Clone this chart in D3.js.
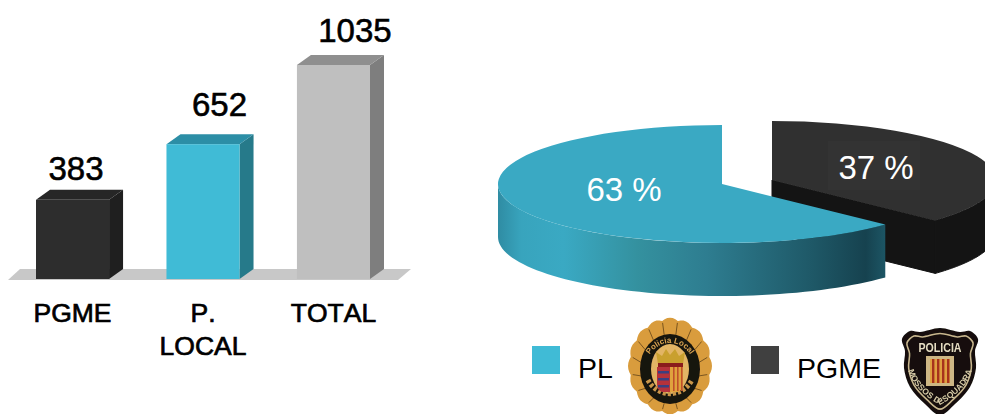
<!DOCTYPE html>
<html>
<head>
<meta charset="utf-8">
<script src="https://cdn.jsdelivr.net/npm/d3@7"></script>
<style>
html,body{margin:0;padding:0;background:#fff;overflow:hidden}
svg{display:block}
text{font-family:"Liberation Sans",Arial,sans-serif;font-kerning:none}
</style>
</head>
<body>
<script>
// bar data
var categories = ["PGME", "P. LOCAL", "TOTAL"];
var barValues = [383, 652, 1035];
var barFront = ["#2d2d2d", "#40bbd6", "#bfbfbf"];
var barTop = ["#262626", "#2c8ea6", "#8f8f8f"];
var barSide = ["#1f1f1f", "#267a8a", "#7e7e7e"];

// pie data
var pieNames = ["PL", "PGME"];
var pieValues = [63, 37];
var pieLabels = ["63 %", "37 %"];

var legendColors = ["#40bbd6", "#404040"];

var width = 985, height = 414;
var svg = d3.select("body").append("svg")
    .attr("width", width).attr("height", height).attr("viewBox", [0, 0, width, height]);
var defs = svg.append("defs");

// BARS
var base = 279, dx = 14, dy = 10;
var x = d3.scaleBand().domain(categories).range([36, 370]).paddingInner(0.44).paddingOuter(0);
var y = d3.scaleLinear().domain([0, 1035]).range([base, 65]);
// value labels sit off the bar centre in the original
var valueShift = [3.5, 16.5, 21.5];
var valueLift = [20, 28, 23];

svg.append("polygon")
    .attr("points", [[8, 280], [398, 280], [411, 269], [20, 269]].join(" "))
    .attr("fill", "#c8c8c8");

var bars = svg.append("g").selectAll("g").data(barValues).enter().append("g");
bars.append("polygon")
    .attr("fill", function(d, i) { return barSide[i]; })
    .attr("points", function(d, i) {
        var r = x(categories[i]) + x.bandwidth();
        return [[r, y(d)], [r + dx, y(d) - dy], [r + dx, base - dy], [r, base]].join(" ");
    });
bars.append("polygon")
    .attr("fill", function(d, i) { return barTop[i]; })
    .attr("points", function(d, i) {
        var l = x(categories[i]), r = l + x.bandwidth();
        return [[l, y(d)], [l + dx, y(d) - dy], [r + dx, y(d) - dy], [r, y(d)]].join(" ");
    });
bars.append("rect")
    .attr("x", function(d, i) { return x(categories[i]); })
    .attr("y", function(d) { return y(d); })
    .attr("width", x.bandwidth())
    .attr("height", function(d) { return base - y(d); })
    .attr("fill", function(d, i) { return barFront[i]; });
bars.append("text")
    .attr("x", function(d, i) { return x(categories[i]) + x.bandwidth() / 2 + valueShift[i]; })
    .attr("y", function(d, i) { return y(d) - valueLift[i]; })
    .attr("text-anchor", "middle")
    .attr("font-size", 33).attr("stroke", "#000").attr("stroke-width", 0.6)
    .text(function(d) { return d; });

// category labels, split on the space like the original
var catLabels = svg.append("g").selectAll("text").data(categories).enter().append("text")
    .attr("x", function(d) { return x(d) + x.bandwidth() / 2; })
    .attr("y", 322)
    .attr("text-anchor", "middle")
    .attr("font-size", 26.5).attr("stroke", "#000").attr("stroke-width", 0.7);
catLabels.selectAll("tspan").data(function(d) { return d.split(" "); }).enter().append("tspan")
    .attr("x", function() { return d3.select(this.parentNode).attr("x"); })
    .attr("dy", function(d, i) { return i ? 33 : 0; })
    .text(function(d) { return d; });

// PIE
var rx = 224, ry = 59, depth = 53;
var tilt = 133.2 * Math.PI / 180; // where the teal slice starts, clockwise from top
var centers = [[722, 184], [772, 180]];
var pie = d3.pie().sort(null).startAngle(tilt).endAngle(tilt + 2 * Math.PI);
var slices = pie(pieValues);
var arc = d3.arc().innerRadius(0).outerRadius(ry);

function rim(c, a0, a1, off) {
    return d3.range(0, 61).map(function(k) {
        var a = a0 + (a1 - a0) * k / 60;
        return [c[0] + rx * Math.sin(a), c[1] - ry * Math.cos(a) + off];
    });
}
function wall(c, a0, a1) {
    return d3.line()(rim(c, a0, a1, 0).concat(rim(c, a1, a0, depth))) + "Z";
}

var grad = defs.append("linearGradient").attr("id", "tealWall")
    .attr("gradientUnits", "userSpaceOnUse")
    .attr("x1", 498).attr("x2", 885).attr("y1", 0).attr("y2", 0);
[[0, "#2f8ca3"], [0.06, "#38a4bd"], [0.17, "#3aa9c3"], [0.36, "#34919f"], [0.54, "#2e7d90"],
 [0.8, "#1f5a69"], [0.95, "#16424f"], [1, "#1c5564"]].forEach(function(s) {
    grad.append("stop").attr("offset", s[0]).attr("stop-color", s[1]);
});

// dark slice goes first, teal sits in front of it
var darkC = centers[1], dark = slices[1];
var darkEnd = dark.endAngle - 2 * Math.PI;
svg.append("path")
    .attr("d", wall(darkC, Math.PI / 2, darkEnd))
    .attr("fill", "#141414").attr("stroke", "#141414").attr("stroke-width", 1);
svg.append("polygon") // cut face
    .attr("points", [[darkC[0], darkC[1]], rim(darkC, darkEnd, darkEnd, 0)[0],
        rim(darkC, darkEnd, darkEnd, depth)[0], [darkC[0], darkC[1] + depth]].join(" "))
    .attr("fill", "#141414").attr("stroke", "#141414").attr("stroke-width", 1);
svg.append("path")
    .attr("transform", "translate(" + darkC + ") scale(" + rx / ry + ",1)")
    .attr("d", d3.arc().innerRadius(0).outerRadius(ry).startAngle(0).endAngle(darkEnd)())
    .attr("fill", "#303030");
svg.append("rect").attr("x", 828).attr("y", 141).attr("width", 92).attr("height", 49).attr("fill", "#333");

var teal = slices[0], tealC = centers[0];
svg.append("path")
    .attr("d", wall(tealC, teal.startAngle, 1.5 * Math.PI))
    .attr("fill", "url(#tealWall)");
svg.append("path")
    .attr("transform", "translate(" + tealC + ") scale(" + rx / ry + ",1)")
    .attr("d", arc(teal))
    .attr("fill", "#3aa9c3");

svg.append("g").selectAll("text").data(pieLabels).enter().append("text")
    .attr("x", function(d, i) { return [624, 876][i]; })
    .attr("y", function(d, i) { return [201, 179][i]; })
    .attr("text-anchor", "middle").attr("font-size", 33).attr("fill", "#fff")
    .text(function(d) { return d; });

// LEGEND
var legend = svg.append("g").selectAll("g").data(pieNames).enter().append("g");
legend.append("rect")
    .attr("x", function(d, i) { return [532, 751][i]; })
    .attr("y", 346).attr("width", 28).attr("height", 28)
    .attr("fill", function(d, i) { return legendColors[i]; });
legend.append("text")
    .attr("x", function(d, i) { return [578, 797][i]; })
    .attr("y", 378).attr("font-size", 28.5)
    .text(function(d) { return d; });

// badges are soft in the original
defs.append("filter").attr("id", "soft").append("feGaussianBlur").attr("stdDeviation", 0.6);

// POLICIA LOCAL BADGE
var b1 = svg.append("g").attr("transform", "translate(670,366)").attr("filter", "url(#soft)");
var scallop = d3.range(0, 96).map(function(k) {
    var a = k / 96 * 2 * Math.PI;
    var wob = 1 + 0.05 * Math.abs(Math.cos(a * 8));
    return [40 * wob * Math.sin(a), -46 * wob * Math.cos(a)];
});
b1.append("path").attr("d", d3.line().curve(d3.curveLinearClosed)(scallop)).attr("fill", "#d99c3c");
d3.range(0, 16).forEach(function(k) {
    var a = (k + 0.5) / 16 * 2 * Math.PI;
    b1.append("line")
        .attr("x1", 30 * Math.sin(a)).attr("y1", 3 - 35 * Math.cos(a))
        .attr("x2", 38 * Math.sin(a)).attr("y2", -44 * Math.cos(a))
        .attr("stroke", "#7a5520").attr("stroke-width", 1);
});
b1.append("ellipse").attr("cy", 3).attr("rx", 30).attr("ry", 35).attr("fill", "#171310");
b1.append("ellipse").attr("cy", 3).attr("rx", 19).attr("ry", 25).attr("fill", "#e2b565");
defs.append("path").attr("id", "b1top").attr("d", "M-26,8 A25,30 0 0 1 26,8");
b1.append("text").attr("font-size", 8).attr("font-weight", "bold").attr("fill", "#d8a550")
    .attr("text-anchor", "middle")
    .append("textPath").attr("href", "#b1top").attr("startOffset", "50%").text("Policia Local");
b1.append("path").attr("d", "M-22,14 A25,26 0 0 0 22,14")
    .attr("fill", "none").attr("stroke", "#c9974a").attr("stroke-width", 5).attr("stroke-dasharray", "3 2");
// crown and shield
b1.append("path").attr("d", "M-12,-2 L-14,-14 L-8,-10 L-4,-17 L0,-11 L5,-17 L9,-10 L15,-14 L13,-2Z").attr("fill", "#c9a02e");
b1.append("rect").attr("x", -12).attr("y", -3).attr("width", 25).attr("height", 4).attr("fill", "#8a1f1f");
b1.append("path").attr("d", "M-13,1 H0 V26 H-8 Q-13,24 -13,18Z").attr("fill", "#b5333a");
b1.append("path").attr("d", "M0,1 H13 V18 Q13,24 8,26 H0Z").attr("fill", "#e0a23c");
[5, 12, 19].forEach(function(t) {
    b1.append("rect").attr("x", -12).attr("y", t).attr("width", 11).attr("height", 2.5).attr("fill", "#3a3f80");
});
[3, 7, 11].forEach(function(t) {
    b1.append("rect").attr("x", t).attr("y", 1).attr("width", 1.6).attr("height", 24).attr("fill", "#c0502a");
});

// MOSSOS BADGE
var b2 = svg.append("g").attr("transform", "translate(895,324)").attr("filter", "url(#soft)");
var shieldPts = [[45, 4], [25, 8], [15, 7], [7, 15], [10, 27], [9, 44], [15, 63], [30, 80], [45, 91],
    [60, 80], [75, 63], [81, 44], [80, 27], [83, 15], [75, 7], [65, 8]];
var shield = d3.line().curve(d3.curveCatmullRomClosed.alpha(0.5));
b2.append("path").attr("d", shield(shieldPts)).attr("fill", "#120d0a");
var innerPts = shieldPts.map(function(p) { return [45 + (p[0] - 45) * 0.87, 46 + (p[1] - 46) * 0.87]; });
b2.append("path").attr("d", shield(innerPts)).attr("fill", "none").attr("stroke", "#c9b68e").attr("stroke-width", 1.6);
b2.append("text").attr("x", 45).attr("y", 28).attr("text-anchor", "middle")
    .attr("font-size", 13).attr("font-weight", "bold").attr("fill", "#e6dcc2")
    .attr("textLength", 43).attr("lengthAdjust", "spacingAndGlyphs").text("POLICIA");
b2.append("rect").attr("x", 31).attr("y", 32).attr("width", 28).attr("height", 30).attr("fill", "#cdb684");
b2.append("rect").attr("x", 35).attr("y", 35).attr("width", 20).attr("height", 24).attr("fill", "#e0a040");
[37, 42, 47, 52].forEach(function(t) {
    b2.append("rect").attr("x", t).attr("y", 35).attr("width", 2.4).attr("height", 24).attr("fill", "#a8321f");
});
defs.append("path").attr("id", "b2bot").attr("d", "M13,46 C17,62 32,74 45,81 C58,74 73,62 77,46");
b2.append("text").attr("font-size", 8.5).attr("font-weight", "bold").attr("fill", "#d8cba8")
    .attr("text-anchor", "middle")
    .append("textPath").attr("href", "#b2bot").attr("startOffset", "50%").text("MOSSOS D'ESQUADRA");
</script>
</body>
</html>
